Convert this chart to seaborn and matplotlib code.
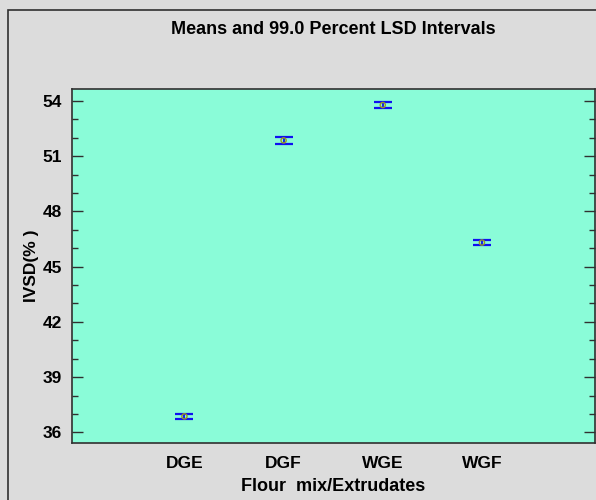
import pandas as pd
import numpy as np
import matplotlib.pyplot as plt
import seaborn as sns
from matplotlib.ticker import MultipleLocator
from matplotlib.patches import Rectangle

sns.set_style("ticks")
plt.rcParams["font.family"] = ["Liberation Sans", "DejaVu Sans"]
plt.rcParams["text.color"] = "black"
plt.rcParams["axes.labelcolor"] = "black"
plt.rcParams["xtick.color"] = "black"
plt.rcParams["ytick.color"] = "black"

groups = ["DGE", "DGF", "WGE", "WGF"]
means = [36.87, 51.86, 53.78, 46.31]
half_lsd = [0.14, 0.18, 0.18, 0.14]

df = pd.DataFrame({"group": groups, "mean": means, "half": half_lsd})

fig = plt.figure(figsize=(5.96, 5.0), dpi=100, facecolor="#DCDCDC")
ax = fig.add_axes([0.1208, 0.115, 0.8775, 0.707])
ax.set_facecolor("#8AFCD8")

# frame around the whole chart (cropped screenshot)
fig.patches.append(Rectangle((8 / 596, -0.1), 1.2, 1.08,
                             transform=fig.transFigure, fill=False,
                             edgecolor="#303030", linewidth=1.2))

ax.errorbar(np.arange(len(groups)), df["mean"], yerr=df["half"], fmt="none",
            ecolor="#1010F0", elinewidth=1.3, capsize=6.8, capthick=1.6)
sns.scatterplot(x="group", y="mean", data=df, ax=ax, marker="o", s=14,
                facecolor="none", edgecolor="#9A9A20", linewidth=1.0, zorder=3)

ax.set_xlim(-1.134, 4.14)
ax.set_ylim(35.45, 54.65)
ax.yaxis.set_major_locator(MultipleLocator(3))
ax.yaxis.set_minor_locator(MultipleLocator(1))
ax.tick_params(axis="y", which="major", direction="in", length=8, width=1,
               right=True, labelsize=12.5, pad=7, color="#303030")
ax.tick_params(axis="y", which="minor", direction="in", length=4, width=1,
               right=True, color="#303030")
ax.tick_params(axis="x", length=0, labelsize=12.5, pad=10)
for lab in ax.get_xticklabels() + ax.get_yticklabels():
    lab.set_fontweight("bold")

for sp in ax.spines.values():
    sp.set_color("#303030")
    sp.set_linewidth(1.2)

ax.set_xlabel("Flour  mix/Extrudates", fontsize=13, fontweight="bold", labelpad=5)
ax.set_ylabel("IVSD(% )", fontsize=12.5, fontweight="bold", labelpad=3)
fig.suptitle("Means and 99.0 Percent LSD Intervals", x=0.56, y=0.958,
             fontsize=13, fontweight="bold")

fig.savefig("out.png", dpi=100, facecolor=fig.get_facecolor())
